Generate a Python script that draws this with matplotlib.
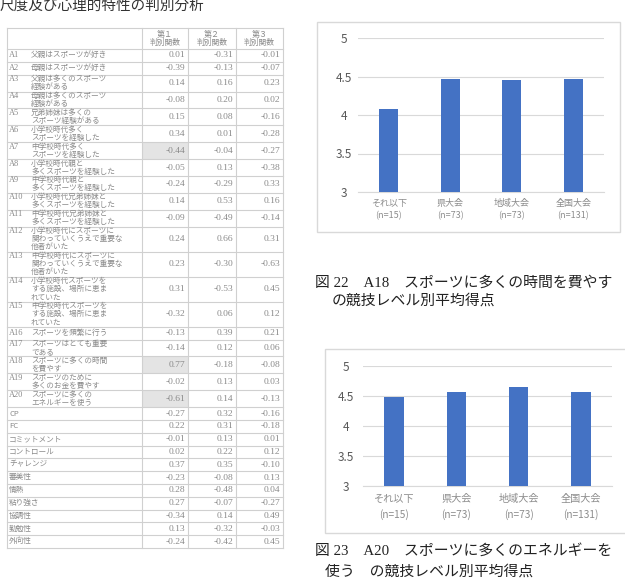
import matplotlib
matplotlib.use('Agg')
import matplotlib.pyplot as plt
from matplotlib.patches import Rectangle

plt.rcParams['font.family'] = ['Noto Sans CJK JP', 'DejaVu Sans']

W, H = 625, 587

# ---------------- data ----------------
page_title = "尺度及び心理的特性の判別分析"
col_headers = ["第１\n判別関数", "第２\n判別関数", "第３\n判別関数"]

item_codes = ["A1", "A2", "A3", "A4", "A5", "A6", "A7", "A8", "A9", "A10",
              "A11", "A12", "A13", "A14", "A15", "A16", "A17", "A18", "A19", "A20",
              "", "", "", "", "", "", "", "", "", "", ""]
item_texts = [
    "父親はスポーツが好き",
    "母親はスポーツが好き",
    "父親は多くのスポーツ\n経験がある",
    "母親は多くのスポーツ\n経験がある",
    "兄弟姉妹は多くの\nスポーツ経験がある",
    "小学校時代多く\nスポーツを経験した",
    "中学校時代多く\nスポーツを経験した",
    "小学校時代親と\n多くスポーツを経験した",
    "中学校時代親と\n多くスポーツを経験した",
    "小学校時代兄弟姉妹と\n多くスポーツを経験した",
    "中学校時代兄弟姉妹と\n多くスポーツを経験した",
    "小学校時代にスポーツに\n関わっていくうえで重要な\n他者がいた",
    "中学校時代にスポーツに\n関わっていくうえで重要な\n他者がいた",
    "小学校時代スポーツを\nする施設、場所に恵ま\nれていた",
    "中学校時代スポーツを\nする施設、場所に恵ま\nれていた",
    "スポーツを頻繁に行う",
    "スポーツはとても重要\nである",
    "スポーツに多くの時間\nを費やす",
    "スポーツのために\n多くのお金を費やす",
    "スポーツに多くの\nエネルギーを使う",
    "CP", "FC", "コミットメント", "コントロール", "チャレンジ",
    "審美性", "情熱", "粘り強さ", "協調性", "勤勉性", "外向性"]

fn1 = [0.01, -0.39, 0.14, -0.08, 0.15, 0.34, -0.44, -0.05, -0.24, 0.14,
       -0.09, 0.24, 0.23, 0.31, -0.32, -0.13, -0.14, 0.77, -0.02, -0.61,
       -0.27, 0.22, -0.01, 0.02, 0.37, -0.23, 0.28, 0.27, -0.34, 0.13, -0.24]
fn2 = [-0.31, -0.13, 0.16, 0.20, 0.08, 0.01, -0.04, 0.13, -0.29, 0.53,
       -0.49, 0.66, -0.30, -0.53, 0.06, 0.39, 0.12, -0.18, 0.13, 0.14,
       0.32, 0.31, 0.13, 0.22, 0.35, -0.08, -0.48, -0.07, 0.14, -0.32, -0.42]
fn3 = [-0.01, -0.07, 0.23, 0.02, -0.16, -0.28, -0.27, -0.38, 0.33, 0.16,
       -0.14, 0.31, -0.63, 0.45, 0.12, 0.21, 0.06, -0.08, 0.03, -0.13,
       -0.16, -0.18, 0.01, 0.12, -0.10, 0.13, 0.04, -0.27, 0.49, -0.03, 0.45]
highlighted_codes = ["A7", "A18", "A20"]

levels = ["それ以下", "県大会", "地域大会", "全国大会"]
n_counts = [15, 73, 73, 131]
a18_means = [4.08, 4.47, 4.46, 4.47]
a20_means = [4.49, 4.57, 4.65, 4.56]
y_ticks = [3, 3.5, 4, 4.5, 5]

caption22 = ["図 22\u3000A18\u3000スポーツに多くの時間を費やす", "の競技レベル別平均得点"]
caption23 = ["図 23\u3000A20\u3000スポーツに多くのエネルギーを", "使う\u3000の競技レベル別平均得点"]

# ---------------- figure ----------------
fig = plt.figure(figsize=(W / 100, H / 100), dpi=100)
fig.patch.set_facecolor('white')

bg = fig.add_axes([0, 0, 1, 1])
bg.set_xlim(0, W)
bg.set_ylim(H, 0)
bg.axis('off')

bg.text(0, 6, page_title, fontsize=10.5, color='#333333', ha='left', va='center')

# ---- table ----
tab_l, tab_r = 7, 283
col_edges = [142, 188, 236, 283]
head_t, head_b = 28, 49
line_c = '#d0d0d0'
txt_c = '#8a8a8a'

row_h = {1: 12.8, 2: 16.9, 3: 25.0}
y = head_b
bounds = []
for t in item_texts:
    n = t.count('\n') + 1
    bounds.append((y, y + row_h[n]))
    y += row_h[n]
tab_b = y

# header
bg.plot([tab_l, tab_r], [head_t, head_t], color=line_c, lw=0.8)
for j, hdr in enumerate(col_headers):
    cx = (col_edges[j] + col_edges[j + 1]) / 2
    l1, l2 = hdr.split('\n')
    bg.text(cx, 34, l1, fontsize=5.8, color=txt_c, ha='center', va='center')
    bg.text(cx, 43, l2, fontsize=5.6, color=txt_c, ha='center', va='center')

bg.plot([tab_l, tab_r], [head_b, head_b], color=line_c, lw=0.8)
for x in [tab_l] + col_edges:
    bg.plot([x, x], [head_t, tab_b], color=line_c, lw=0.8)

for i, (code, text) in enumerate(zip(item_codes, item_texts)):
    top, bot = bounds[i]
    cy = (top + bot) / 2
    bg.plot([tab_l, tab_r], [bot, bot], color=line_c, lw=0.8)
    if code in highlighted_codes:
        bg.add_patch(Rectangle((col_edges[0] + 0.5, top + 0.5), col_edges[1] - col_edges[0] - 1,
                               bot - top - 1, facecolor='#e4e4e4', edgecolor='none'))
    lines = text.split('\n')
    n = len(lines)
    if code:
        bg.text(9, cy - (n - 1) / 2 * 8.0, code, fontsize=6.0, color=txt_c,
                ha='left', va='center', family=['Liberation Serif', 'Noto Sans CJK JP'])
        x0 = 31
    else:
        x0 = 9
    for k, ln in enumerate(lines):
        bg.text(x0, cy + (k - (n - 1) / 2) * 8.0, ln, fontsize=5.5, color=txt_c,
                ha='left', va='center')
    for j, vals in enumerate([fn1, fn2, fn3]):
        bg.text(col_edges[j + 1] - 3, cy, f"{vals[i]:.2f}", fontsize=6.8, color=txt_c,
                ha='right', va='center', family=['Liberation Serif', 'DejaVu Serif'])

# ---- charts ----
def chart(box, plot, values, tick_fs, xt_fs, ypad, xpad):
    bl, bt, br, bb = box
    bg.add_patch(Rectangle((bl, bt), br - bl, bb - bt, facecolor='white',
                           edgecolor='#d9d9d9', lw=1.0))
    l, t, r, b = plot
    ax = fig.add_axes([l / W, 1 - b / H, (r - l) / W, (b - t) / H])
    ax.set_facecolor('none')
    xs = list(range(len(values)))
    ax.bar(xs, [v - 3 for v in values], bottom=3, width=0.31, color='#4472C4', zorder=3)
    ax.set_xlim(-0.5, len(values) - 0.5)
    ax.set_ylim(3, 5)
    ax.set_yticks(y_ticks)
    ax.set_yticklabels([f"{v:g}" for v in y_ticks], fontsize=tick_fs, color='#595959')
    for lab in ax.get_yticklabels():
        lab.set_ha('center')
    ax.set_xticks(xs)
    ax.set_xticklabels([f"{c}\n(n={n})" for c, n in zip(levels, n_counts)],
                       fontsize=xt_fs, color='#8c8c8c', linespacing=1.5)
    ax.tick_params(axis='y', length=0, pad=ypad)
    ax.tick_params(axis='x', length=0, pad=xpad)
    ax.grid(axis='y', color='#d9d9d9', lw=0.8, zorder=0)
    for s in ['top', 'right', 'left']:
        ax.spines[s].set_visible(False)
    ax.spines['bottom'].set_color('#d9d9d9')
    return ax

chart((317, 22, 620, 232), (358, 38, 604, 192), a18_means, 8.5, 6.5, 10, 5)
chart((325, 349, 627, 533), (363, 366, 612, 486), a20_means, 8.5, 7.3, 12, 6)

cap_fam = ['Liberation Serif', 'Noto Sans CJK JP']
bg.text(315, 283, caption22[0], fontsize=10.7, color='#222222', ha='left', va='center', family=cap_fam)
bg.text(332, 301, caption22[1], fontsize=10.7, color='#222222', ha='left', va='center', family=cap_fam)
bg.text(315, 551, caption23[0], fontsize=10.7, color='#222222', ha='left', va='center', family=cap_fam)
bg.text(325, 572, caption23[1], fontsize=10.7, color='#222222', ha='left', va='center', family=cap_fam)

fig.savefig('out.png', dpi=100, facecolor='white')
